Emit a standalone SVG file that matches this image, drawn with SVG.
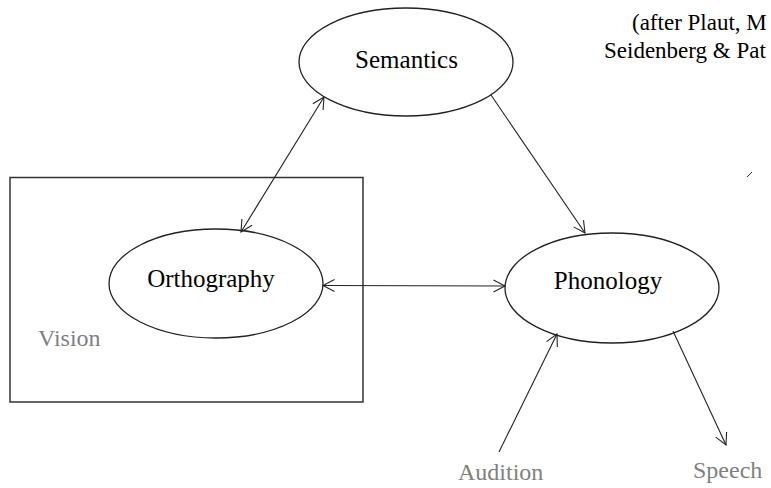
<svg xmlns="http://www.w3.org/2000/svg" width="771" height="488" viewBox="0 0 771 488">
  <defs>
    <style>
      .node { fill: #ffffff; stroke: #222222; stroke-width: 1.3; }
      .label { font-family: "Liberation Serif", "Times New Roman", serif; font-size: 25px; fill: #000000; text-anchor: middle; }
      .side { font-family: "Liberation Serif", "Times New Roman", serif; font-size: 24px; fill: #7f7f7f; }
      .note { font-family: "Liberation Serif", "Times New Roman", serif; font-size: 23px; fill: #000000; }
      .conn line { stroke: #222222; stroke-width: 1.1; fill: none; }
      .head { fill: none; stroke: #222222; stroke-width: 1.1; }
    </style>
    <marker id="arrow" markerUnits="userSpaceOnUse" markerWidth="16" markerHeight="14" refX="13" refY="7" orient="auto-start-reverse" viewBox="0 0 16 14">
      <path class="head" d="M1.5,1 L13,7 L1.5,13"/>
    </marker>
  </defs>

  <rect id="vision-box" x="10" y="177.5" width="353" height="224.5" fill="none" stroke="#333333" stroke-width="1.5"/>
  <text class="side" x="38" y="346">Vision</text>

  <g id="semantics">
    <ellipse class="node" cx="406" cy="62" rx="107" ry="54"/>
    <text class="label" x="406.5" y="68">Semantics</text>
  </g>

  <g id="orthography">
    <ellipse class="node" cx="216" cy="283.5" rx="107" ry="54.5"/>
    <text class="label" x="211" y="287">Orthography</text>
  </g>

  <g id="phonology">
    <ellipse class="node" cx="612" cy="288" rx="107" ry="55"/>
    <text class="label" x="608" y="289">Phonology</text>
  </g>

  <g id="connectors" class="conn">
    <line x1="241" y1="232" x2="324" y2="97" marker-start="url(#arrow)" marker-end="url(#arrow)"/>
    <line x1="323" y1="285.5" x2="505" y2="286" marker-start="url(#arrow)" marker-end="url(#arrow)"/>
    <line x1="491" y1="95" x2="585" y2="233" marker-end="url(#arrow)"/>
    <line x1="499" y1="452" x2="557" y2="334" marker-end="url(#arrow)"/>
    <line x1="673" y1="331" x2="726" y2="445" marker-end="url(#arrow)"/>
  </g>

  <line x1="747" y1="177" x2="752" y2="172" stroke="#333333" stroke-width="1"/>

  <text class="side" x="458" y="480">Audition</text>
  <text class="side" x="693" y="478">Speech</text>

  <text class="note" x="632" y="30">(after Plaut, M</text>
  <text class="note" x="604" y="58">Seidenberg &amp; Pat</text>
</svg>
